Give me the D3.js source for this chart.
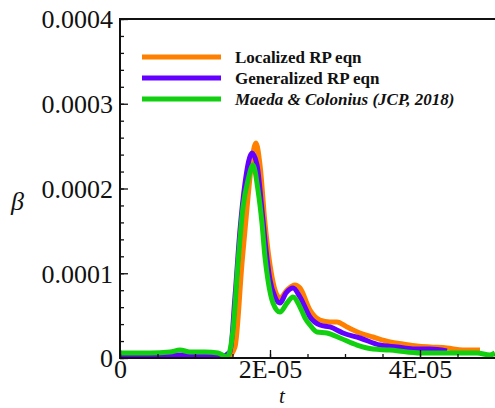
<!DOCTYPE html>
<html>
<head>
<meta charset="utf-8">
<script src="https://cdn.jsdelivr.net/npm/d3@7"></script>
<style>
  body { margin: 0; background: #fff; }
</style>
</head>
<body>
<div id="chart" style="width:495px;height:408px"></div>
<script>
// time values are in units of 1E-05, beta in units of 1E-04
const tLocal = [0, 1.067, 1.44, 1.533, 1.627, 1.707, 1.76, 1.813, 1.867, 1.933, 2.027, 2.08, 2.133, 2.227, 2.333, 2.4, 2.533, 2.667, 2.8, 2.893, 3.027, 3.2, 3.373, 3.6, 3.773, 3.96, 4.133, 4.36, 4.573, 4.8]
const bLocal = [0.024, 0.024, 0.012, 0.13, 1.121, 1.9, 2.336, 2.537, 2.277, 1.593, 0.956, 0.767, 0.708, 0.802, 0.861, 0.826, 0.566, 0.448, 0.425, 0.425, 0.366, 0.295, 0.248, 0.189, 0.165, 0.142, 0.13, 0.118, 0.094, 0.094]

const tGen = [0, 1.067, 1.36, 1.467, 1.533, 1.6, 1.667, 1.76, 1.827, 1.893, 1.947, 2.0, 2.067, 2.133, 2.213, 2.307, 2.4, 2.533, 2.667, 2.8, 2.973, 3.2, 3.467, 3.693, 3.907, 4.133, 4.36]
const bGen = [0.035, 0.035, 0.024, 0.071, 0.72, 1.51, 2.065, 2.419, 2.277, 1.746, 1.274, 0.92, 0.72, 0.649, 0.767, 0.826, 0.72, 0.484, 0.389, 0.366, 0.295, 0.236, 0.153, 0.13, 0.106, 0.106, 0.083]

const tMaeda = [0, 0.4, 0.667, 0.8, 0.933, 1.133, 1.307, 1.427, 1.507, 1.573, 1.64, 1.707, 1.773, 1.84, 1.893, 1.933, 1.973, 2.04, 2.133, 2.227, 2.307, 2.4, 2.467, 2.533, 2.627, 2.76, 2.933, 3.16, 3.373, 3.6, 3.827, 4.04, 4.267, 4.493, 4.76, 4.933, 5.0]
const bMaeda = [0.059, 0.059, 0.071, 0.094, 0.071, 0.071, 0.059, 0.012, 0.33, 1.121, 1.782, 2.1, 2.277, 1.982, 1.593, 1.192, 0.92, 0.649, 0.543, 0.649, 0.72, 0.602, 0.472, 0.389, 0.307, 0.295, 0.236, 0.153, 0.106, 0.094, 0.071, 0.059, 0.059, 0.059, 0.059, 0.035, 0.059]

const seriesNames = ["Localized RP eqn", "Generalized RP eqn", "Maeda & Colonius (JCP, 2018)"]
const seriesColors = ["#ff8000", "#6400ff", "#10d010"]

const yMajor = [0, 1e-4, 2e-4, 3e-4, 4e-4]
const yTickLabels = ["0", "0.0001", "0.0002", "0.0003", "0.0004"]
const xMajor = [0, 2e-5, 4e-5]
const xTickLabels = ["0", "2E-05", "4E-05"]

const serif = "Liberation Serif"

function Chart(pid) {
  const svg = d3.select(pid).append("svg")
    .attr("width", 495)
    .attr("height", 408)

  const left = 120, right = 495, top = 19, bottom = 358

  const x = d3.scaleLinear().domain([0, 5e-5]).range([left, right])
  const y = d3.scaleLinear().domain([0, 4e-4]).range([bottom, top])

  svg.append("clipPath").attr("id", "clip")
    .append("rect").attr("x", left).attr("y", top)
    .attr("width", right - left).attr("height", bottom - top)

  const series = [
    { t: tLocal, b: bLocal },
    { t: tGen, b: bGen },
    { t: tMaeda, b: bMaeda }
  ]

  const line = d3.line()
    .x(d => x(d[0] * 1e-5))
    .y(d => y(d[1] * 1e-4))
    .curve(d3.curveMonotoneX)

  const lines = svg.append("g").attr("clip-path", "url(#clip)")
  series.forEach((s, i) => {
    lines.append("path")
      .datum(s.t.map((t, j) => [t, s.b[j]]))
      .attr("d", line)
      .attr("fill", "none")
      .attr("stroke", seriesColors[i])
      .attr("stroke-width", 5)
      .attr("stroke-linejoin", "round")
  })

  // minor ticks
  svg.append("g").attr("transform", `translate(${left},0)`)
    .call(d3.axisLeft(y).tickValues(d3.range(0, 4.01e-4, 2e-5)).tickSize(-4).tickFormat(""))
  svg.append("g").attr("transform", `translate(0,${bottom})`)
    .call(d3.axisBottom(x).tickValues(d3.range(0, 5.01e-5, 0.5e-5)).tickSize(-4).tickFormat(""))

  const axisY = svg.append("g").attr("transform", `translate(${left},0)`)
    .call(d3.axisLeft(y).tickValues(yMajor).tickSize(-8).tickSizeOuter(0).tickPadding(7)
      .tickFormat((d, i) => yTickLabels[i]))
  const axisX = svg.append("g").attr("transform", `translate(0,${bottom})`)
    .call(d3.axisBottom(x).tickValues(xMajor).tickSize(-8).tickSizeOuter(0).tickPadding(2)
      .tickFormat((d, i) => xTickLabels[i]))

  svg.selectAll(".tick line").attr("stroke", "#111").attr("stroke-width", 1.3)
  svg.selectAll(".domain").attr("stroke", "none")
  axisY.selectAll("text").attr("font-family", serif).attr("font-size", 26).attr("fill", "#111").attr("dy", "0.34em")
  axisX.selectAll("text").attr("font-family", serif).attr("font-size", 26).attr("fill", "#111").attr("dy", "0.7em")

  // frame
  svg.append("rect")
    .attr("x", left).attr("y", top)
    .attr("width", right - left + 5).attr("height", bottom - top)
    .attr("fill", "none").attr("stroke", "#111").attr("stroke-width", 2)

  svg.append("text").attr("x", 11).attr("y", 210).attr("fill", "#111")
    .attr("font-family", serif).attr("font-size", 26).attr("font-style", "italic").text("β")
  svg.append("text").attr("x", 282).attr("y", 403).attr("text-anchor", "middle").attr("fill", "#111")
    .attr("font-family", serif).attr("font-size", 21).attr("font-style", "italic").text("t")

  // legend
  const legend = svg.append("g")
  seriesNames.forEach((name, i) => {
    const ly = 57 + i * 21
    legend.append("line")
      .attr("x1", 142).attr("x2", 221).attr("y1", ly).attr("y2", ly)
      .attr("stroke", seriesColors[i]).attr("stroke-width", 5)
    legend.append("text")
      .attr("x", 235).attr("y", ly).attr("dy", "0.35em").attr("fill", "#111")
      .attr("font-family", serif)
      .attr("font-size", 17)
      .attr("font-weight", "bold")
      .attr("font-style", i < 2 ? "normal" : "italic")
      .text(name)
  })
}

Chart("#chart")
</script>
</body>
</html>
